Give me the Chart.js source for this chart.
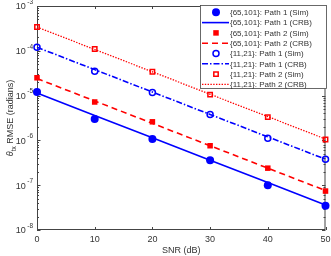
<!DOCTYPE html>
<html>
<head>
<meta charset="utf-8">
<script src="https://cdn.jsdelivr.net/npm/chart.js@4.4.1/dist/chart.umd.min.js"></script>
<style>
  body { margin: 0; background: #fff; }
  #wrap { width: 331px; height: 256px; position: relative; }
</style>
</head>
<body>
<div id="wrap"><canvas id="chart"></canvas></div>
<script>
// datos
const snr = [0, 10, 20, 30, 40, 50];
const xTicks = [0, 10, 20, 30, 40, 50];
const yExponents = [-8, -7, -6, -5, -4, -3];

const p1LongSim = [1.2e-5, 3.0e-6, 1.07e-6, 3.6e-7, 1.0e-7, 3.5e-8];
const p1LongCrb = [1.15e-5, 3.6e-6, 1.15e-6, 3.6e-7, 1.15e-7, 3.6e-8];
const p2LongSim = [2.5e-5, 7.2e-6, 2.6e-6, 7.6e-7, 2.4e-7, 7.4e-8];
const p2LongCrb = [2.4e-5, 7.6e-6, 2.4e-6, 7.6e-7, 2.4e-7, 7.6e-8];
const p1ShortSim = [1.2e-4, 3.5e-5, 1.18e-5, 3.8e-6, 1.12e-6, 3.8e-7];
const p1ShortCrb = [1.2e-4, 3.8e-5, 1.2e-5, 3.8e-6, 1.2e-6, 3.8e-7];
const p2ShortSim = [3.4e-4, 1.1e-4, 3.4e-5, 1.05e-5, 3.3e-6, 1.05e-6];
const p2ShortCrb = [3.4e-4, 1.07e-4, 3.4e-5, 1.07e-5, 3.4e-6, 1.07e-6];

const seriesLabels = [
  '{65,101}: Path 1 (Sim)',
  '{65,101}: Path 1 (CRB)',
  '{65,101}: Path 2 (Sim)',
  '{65,101}: Path 2 (CRB)',
  '{11,21}: Path 1 (Sim)',
  '{11,21}: Path 1 (CRB)',
  '{11,21}: Path 2 (Sim)',
  '{11,21}: Path 2 (CRB)'
];

const BLUE = '#0000ff';
const RED = '#ff0000';
const AXIS = '#444';
const TEXT = '#333';
const FONT = '"Liberation Sans", Arial, sans-serif';

const toPts = arr => arr.map((v, i) => ({ x: snr[i], y: v }));

// helper para series simuladas (solo marcadores)
const simSet = (label, data, style, radius, filled, color) => ({
  label: label,
  data: toPts(data),
  showLine: false,
  pointStyle: style,
  pointRadius: radius,
  pointBorderWidth: filled ? 0 : 1.5,
  pointBackgroundColor: filled ? color : 'rgba(0,0,0,0)',
  pointBorderColor: color,
  borderColor: color,
  backgroundColor: color,
  clip: false
});

// helper para curvas CRB (solo líneas)
const crbSet = (label, data, dash, width, color) => ({
  label: label,
  data: toPts(data),
  borderColor: color,
  backgroundColor: color,
  borderWidth: width,
  borderDash: dash,
  pointRadius: 0,
  tension: 0,
  clip: false
});

const datasets = [
  simSet(seriesLabels[0], p1LongSim, 'circle', 4, true, BLUE),
  crbSet(seriesLabels[1], p1LongCrb, [], 1.6, BLUE),
  simSet(seriesLabels[2], p2LongSim, 'rect', 3.9, true, RED),
  crbSet(seriesLabels[3], p2LongCrb, [6, 4], 1.6, RED),
  simSet(seriesLabels[4], p1ShortSim, 'circle', 3, false, BLUE),
  crbSet(seriesLabels[5], p1ShortCrb, [6, 2, 1.5, 2], 1.6, BLUE),
  simSet(seriesLabels[6], p2ShortSim, 'rect', 3.1, false, RED),
  crbSet(seriesLabels[7], p2ShortCrb, [1.4, 1.4], 1.3, RED)
];

// marco, marcas de ejes, etiquetas del eje y
const framePlugin = {
  id: 'frame',
  beforeDatasetsDraw(chart) {
    const { ctx, chartArea: a } = chart;
    const xs = chart.scales.x, ys = chart.scales.y;
    ctx.save();
    ctx.strokeStyle = AXIS;
    ctx.lineWidth = 1;
    ctx.strokeRect(a.left + 0.5, a.top + 0.5, a.right - a.left - 1, a.bottom - a.top - 1);
    ctx.beginPath();
    xTicks.forEach(t => {
      const px = Math.round(xs.getPixelForValue(t)) + 0.5;
      ctx.moveTo(px, a.bottom); ctx.lineTo(px, a.bottom - 3);
      ctx.moveTo(px, a.top); ctx.lineTo(px, a.top + 3);
    });
    yExponents.forEach((e, k) => {
      const py = Math.round(ys.getPixelForValue(Math.pow(10, e))) + 0.5;
      ctx.moveTo(a.left, py); ctx.lineTo(a.left + 3.5, py);
      ctx.moveTo(a.right, py); ctx.lineTo(a.right - 3.5, py);
      if (k < yExponents.length - 1) {
        for (let m = 2; m <= 9; m++) {
          const pm = Math.round(ys.getPixelForValue(m * Math.pow(10, e))) + 0.5;
          ctx.moveTo(a.left, pm); ctx.lineTo(a.left + 2, pm);
          ctx.moveTo(a.right, pm); ctx.lineTo(a.right - 2, pm);
        }
      }
    });
    ctx.stroke();

    // etiquetas 10^n
    ctx.fillStyle = TEXT;
    ctx.textBaseline = 'middle';
    yExponents.forEach(e => {
      const py = ys.getPixelForValue(Math.pow(10, e));
      const exp = '-' + Math.abs(e);
      ctx.font = '6.5px ' + FONT;
      const ew = ctx.measureText(exp).width;
      ctx.textAlign = 'left';
      ctx.fillText(exp, 33 - ew, py - 4);
      ctx.font = '9px ' + FONT;
      ctx.textAlign = 'right';
      ctx.fillText('10', 33 - ew - 1.5, py + 1);
    });

    // título del eje y con subíndice
    const cy = (a.top + a.bottom) / 2;
    ctx.translate(10, cy);
    ctx.rotate(-Math.PI / 2);
    ctx.textAlign = 'left';
    ctx.textBaseline = 'alphabetic';
    const parts = [
      { t: '\u03b8', f: 'italic 9px ' + FONT, dy: 3 },
      { t: 'tx', f: '6.5px ' + FONT, dy: 5.5 },
      { t: ' RMSE (radians)', f: '9px ' + FONT, dy: 3 }
    ];
    let total = 0;
    parts.forEach(p => { ctx.font = p.f; p.w = ctx.measureText(p.t).width; total += p.w; });
    let x0 = -total / 2;
    parts.forEach(p => { ctx.font = p.f; ctx.fillText(p.t, x0, p.dy); x0 += p.w; });
    ctx.restore();
  },
  afterDatasetsDraw(chart) {
    // leyenda dentro del área
    const { ctx } = chart;
    const bx = 200, by = 5, bw = 127, bh = 84;
    ctx.save();
    ctx.fillStyle = '#fff';
    ctx.fillRect(bx, by, bw, bh);
    ctx.strokeStyle = AXIS;
    ctx.lineWidth = 0.8;
    ctx.strokeRect(bx + 0.5, by + 0.5, bw - 1, bh - 1);
    chart.data.datasets.forEach((ds, i) => {
      const ry = by + 7.3 + i * 10.3;
      if (ds.showLine === false) {
        ctx.setLineDash([]);
        ctx.fillStyle = ds.pointBackgroundColor;
        ctx.strokeStyle = ds.pointBorderColor;
        ctx.lineWidth = ds.pointBorderWidth;
        Chart.helpers.drawPoint(ctx, {
          pointStyle: ds.pointStyle,
          radius: ds.pointRadius,
          borderWidth: ds.pointBorderWidth,
          rotation: 0
        }, 216, ry);
      } else {
        ctx.beginPath();
        ctx.setLineDash(ds.borderDash);
        ctx.strokeStyle = ds.borderColor;
        ctx.lineWidth = ds.borderWidth;
        ctx.moveTo(202, ry);
        ctx.lineTo(229, ry);
        ctx.stroke();
        ctx.setLineDash([]);
      }
      ctx.fillStyle = TEXT;
      ctx.font = '8px ' + FONT;
      ctx.textAlign = 'left';
      ctx.textBaseline = 'middle';
      ctx.fillText(ds.label, 230, ry + 0.5);
    });
    ctx.restore();
  }
};

new Chart(document.getElementById('chart'), {
  type: 'line',
  data: { datasets: datasets },
  options: {
    responsive: true,
    maintainAspectRatio: false,
    animation: false,
    events: [],
    layout: { padding: { top: 6, right: 5, bottom: 0, left: 0 } },
    plugins: {
      legend: { display: false },
      tooltip: { enabled: false }
    },
    scales: {
      x: {
        type: 'linear',
        min: 0,
        max: 50,
        grid: { display: false, drawTicks: false },
        border: { display: false },
        ticks: {
          stepSize: 10,
          padding: 4,
          color: TEXT,
          font: { size: 9, family: FONT }
        },
        title: {
          display: true,
          text: 'SNR (dB)',
          color: TEXT,
          padding: 0,
          font: { size: 9, family: FONT }
        },
        afterFit: scale => {
          scale.height = 26;
          scale.paddingLeft = 0;
          scale.paddingRight = 0;
        }
      },
      y: {
        type: 'logarithmic',
        min: 1e-8,
        max: 1e-3,
        grid: { display: false, drawTicks: false },
        border: { display: false },
        ticks: { display: false },
        afterFit: scale => { scale.width = 37; }
      }
    }
  },
  plugins: [framePlugin]
});
</script>
</body>
</html>
